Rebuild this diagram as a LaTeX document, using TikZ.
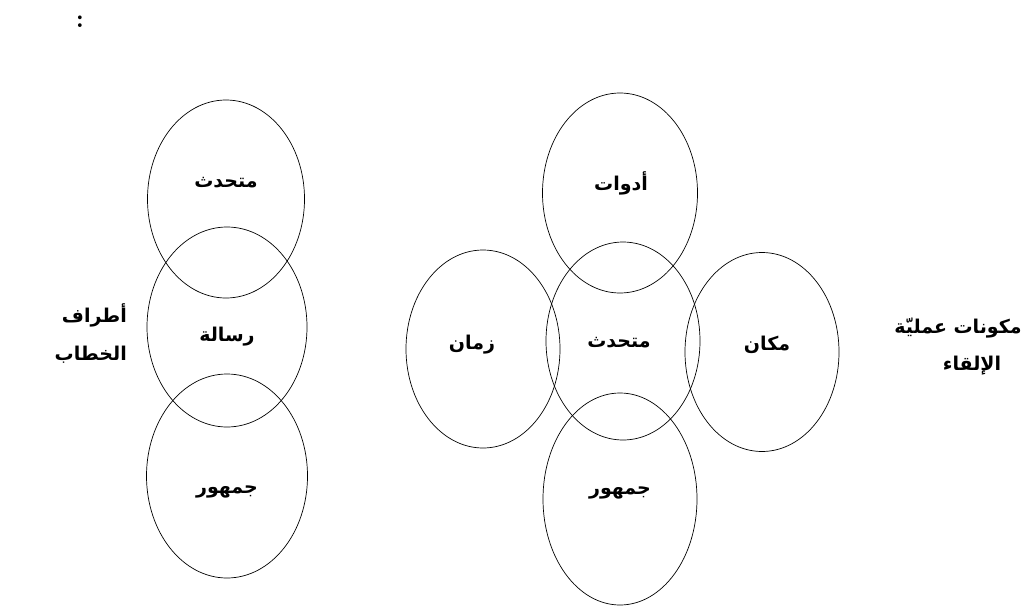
\documentclass[tikz,border=0pt]{standalone}
\usepackage{fontspec}
\usepackage{tikz}
\usetikzlibrary{shapes.geometric}
\TeXXeTstate=1
\newfontfamily\arabicfont[Script=Arabic]{DejaVu Sans}

\begin{document}
\begin{tikzpicture}[x=1pt,y=-1pt,
  oval/.style n args={2}{ellipse,draw,line width=0.7pt,inner sep=0pt,minimum width=#1pt,minimum height=#2pt},
  lbl/.style={font=\arabicfont\bfseries\fontsize{19}{38}\selectfont,inner sep=0pt}]
\useasboundingbox (0,0) rectangle (1026,608);
\node[font=\bfseries\fontsize{26}{26}\selectfont] (colon) at (80,22) {:};
% left group
\foreach \n/\x/\y/\w/\h in %
{ltop/226/199/157/198,lmid/227/327/160/200,lbot/227/476/161/204} {
   \node[oval={\w}{\h}] (\n) at (\x,\y) {};
}
\node[lbl] (lspeaker) at (226,183) {\beginR متحدث\endR};
\node[lbl] (lmessage) at (227,337) {\beginR رسالة\endR};
\node[lbl] (laudience) at (227,492) {\beginR جمهور\endR};
\node[lbl,anchor=east,align=right] (parties) at (127,333)
   {\beginR أطراف\endR\\\beginR الخطاب\endR};
% right group
\foreach \n/\x/\y/\w/\h in %
{rtop/620/193/155/200,rmid/623/341/154/198,rleft/483/349/154/198,%
rright/762/352/154/199,rbot/620/499/154/212} {
   \node[oval={\w}{\h}] (\n) at (\x,\y) {};
}
\node[lbl] (tools) at (621,183) {\beginR أدوات\endR};
\node[lbl] (rspeaker) at (619,343) {\beginR متحدث\endR};
\node[lbl] (time) at (472,345) {\beginR زمان\endR};
\node[lbl] (place) at (767,345) {\beginR مكان\endR};
\node[lbl] (raudience) at (620,493) {\beginR جمهور\endR};
\node[lbl] (components) at (958,328) {\beginR مكونات عمليّة\endR};
\node[lbl] (delivery) at (972,366) {\beginR الإلقاء\endR};
\end{tikzpicture}
\end{document}
